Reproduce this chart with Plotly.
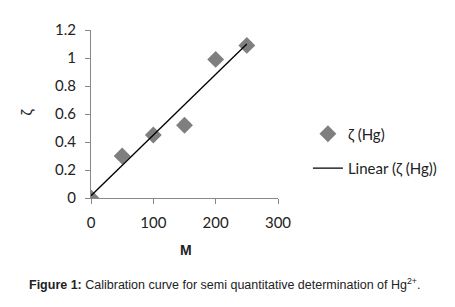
import numpy as np
import plotly.graph_objects as go

conc = [0, 50, 100, 150, 200, 250]
zeta = [0.0, 0.30, 0.45, 0.52, 0.99, 1.09]
x_ticks = [0, 100, 200, 300]
y_ticks = [0, 0.2, 0.4, 0.6, 0.8, 1, 1.2]
y_tick_text = ["0", "0.2", "0.4", "0.6", "0.8", "1", "1.2"]

slope, intercept = np.polyfit(conc, zeta, 1)
fit_x = [conc[0], conc[-1]]
fit_y = [intercept + slope * v for v in fit_x]

fig = go.Figure()
fig.add_trace(go.Scatter(x=conc, y=zeta, mode="markers", name="ζ (Hg)", legendgroup="a",
                         marker=dict(symbol="diamond", size=13, color="#7f7f7f")))
fig.add_trace(go.Scatter(x=fit_x, y=fit_y, mode="lines", name="Linear (ζ (Hg))", legendgroup="b",
                         line=dict(color="#000000", width=1.3)))

axis_font = dict(family="Lato, Open Sans, sans-serif", size=15, color="#222")
fig.update_layout(
    width=455, height=307,
    margin=dict(l=83, r=185, t=17, b=117),
    plot_bgcolor="white", paper_bgcolor="white",
    showlegend=True,
    legend=dict(x=1.16, y=0.28, xanchor="left", yanchor="middle",
                font=dict(family="Lato, Open Sans, sans-serif", size=15, color="#222"),
                bgcolor="rgba(0,0,0,0)", tracegroupgap=12, itemwidth=30),
    xaxis=dict(range=[0, 300], tickvals=x_ticks, showgrid=False, zeroline=False,
               showline=True, linecolor="#888", linewidth=1, ticks="outside",
               ticklen=5, tickcolor="#888", tickfont=axis_font, ticklabelstandoff=6),
    yaxis=dict(range=[0, 1.2], tickvals=y_ticks, ticktext=y_tick_text, showgrid=False,
               zeroline=False, showline=True, linecolor="#888", linewidth=1,
               ticks="outside", ticklen=5, tickcolor="#888", tickfont=axis_font,
               ticklabelstandoff=6),
)
fig.add_annotation(text="<b>M</b>", xref="paper", yref="paper", x=0.508, y=-0.37,
                   showarrow=False, font=dict(family="Liberation Sans, Arial", size=14, color="#222"))
fig.add_annotation(text="ζ", xref="paper", yref="paper", x=-0.406, y=0.509, textangle=-90,
                   showarrow=False, font=dict(family="Lato, Open Sans, sans-serif", size=15, color="#222"))
fig.add_annotation(text="<b>Figure 1:</b> Calibration curve for semi quantitative determination of Hg<sup>2+</sup>.",
                   xref="paper", yref="paper", x=-0.34, y=-0.51, xanchor="left", yanchor="middle",
                   showarrow=False, font=dict(family="Liberation Sans, Arial", size=12.5, color="#222"))
fig.write_html("out.html")
